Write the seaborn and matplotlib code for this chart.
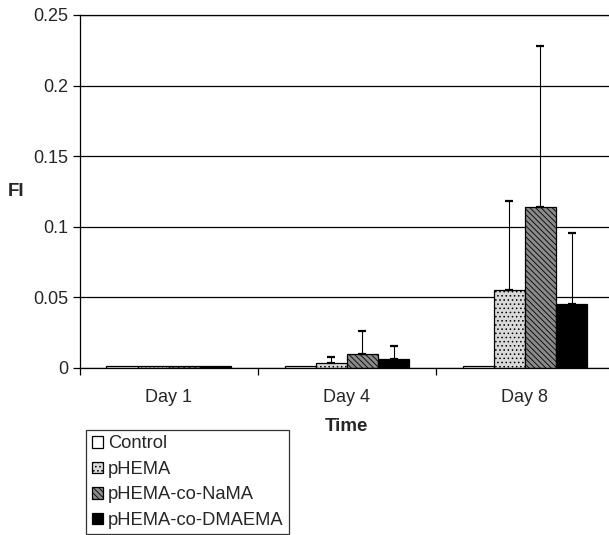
import matplotlib
matplotlib.use("Agg")
import matplotlib.pyplot as plt
import seaborn as sns
import pandas as pd
import numpy as np

# values
days = ["Day 1", "Day 4", "Day 8"]
groups = ["Control", "pHEMA", "pHEMA-co-NaMA", "pHEMA-co-DMAEMA"]
control = [0.0012, 0.0010, 0.0015]
phema = [0.0012, 0.0035, 0.055]
naca = [0.0012, 0.0095, 0.114]
dmaema = [0.0012, 0.0060, 0.0455]
# upper error (absolute top of bar) for each group, 0 means none
control_top = [0.0, 0.0, 0.0]
phema_top = [0.0, 0.0074, 0.118]
naca_top = [0.0, 0.026, 0.228]
dmaema_top = [0.0, 0.0156, 0.0953]

means = [control, phema, naca, dmaema]
tops = [control_top, phema_top, naca_top, dmaema_top]

rows = []
for g, vals in zip(groups, means):
    for d, v in zip(days, vals):
        rows.append({"day": d, "group": g, "fi": v})
df = pd.DataFrame(rows)

sns.set_style("white")
plt.rcParams["font.family"] = ["Liberation Sans", "DejaVu Sans"]
plt.rcParams["hatch.linewidth"] = 0.6

fig = plt.figure(figsize=(6.09, 5.35), dpi=100)
ax = fig.add_axes([0.131, 0.3127, 0.877, 0.6593])

sns.barplot(data=df, x="day", y="fi", hue="group", order=days,
            hue_order=groups, width=0.7, gap=0, errorbar=None,
            legend=False, ax=ax)

bar_conts = list(ax.containers)
faces = ["white", "#d9d9d9", "#8a8a8a", "black"]
hatches = [None, "....", "\\\\\\\\\\\\", None]
for cont, fc, h, top in zip(bar_conts, faces, hatches, tops):
    xs, ys, es = [], [], []
    for bar, t in zip(cont, top):
        bar.set_facecolor(fc)
        bar.set_edgecolor("black")
        bar.set_linewidth(0.9)
        if h:
            bar.set_hatch(h)
        if t > 0:
            xs.append(bar.get_x() + bar.get_width() / 2)
            ys.append(bar.get_height())
            es.append(t - bar.get_height())
    if xs:
        ax.errorbar(xs, ys, yerr=[np.zeros(len(es)), es], fmt="none",
                    ecolor="black", elinewidth=0.8, capsize=3, capthick=1.6)

ax.set_xlim(-0.5, 2.5)
ax.set_ylim(0, 0.25)
ax.set_yticks([0, 0.05, 0.1, 0.15, 0.2, 0.25])
ax.set_yticklabels(["0", "0.05", "0.1", "0.15", "0.2", "0.25"])
ax.yaxis.grid(True, color="black", linewidth=0.9)
ax.set_axisbelow(True)
for s in ["left", "bottom", "top"]:
    ax.spines[s].set_color("black")
    ax.spines[s].set_linewidth(0.9)
ax.spines["right"].set_visible(False)

ax.set_xticks([-0.5, 0.5, 1.5, 2.5], minor=True)
ax.tick_params(axis="x", which="major", length=0, labelsize=13, pad=15)
ax.tick_params(axis="x", which="minor", length=5, width=0.9, color="black",
               direction="out", bottom=True)
ax.tick_params(axis="y", length=5, width=0.9, color="black", direction="out",
               left=True, labelsize=13)

ax.set_xlabel("Time", fontsize=13.5, fontweight="bold", labelpad=9)
ax.set_ylabel("FI", fontsize=13.5, fontweight="bold", rotation=0,
              ha="center", va="center")
ax.yaxis.set_label_coords(-0.12, 0.50)

handles = [c.patches[0] for c in bar_conts]
leg = fig.legend(handles, groups, loc="upper left",
                 bbox_to_anchor=(86 / 609, 1 - 430 / 535),
                 frameon=True, fancybox=False, fontsize=13.2,
                 handlelength=0.6, handleheight=0.6, handletextpad=0.3,
                 labelspacing=0.46, borderpad=0.3, borderaxespad=0)
leg.get_frame().set_edgecolor("black")
leg.get_frame().set_linewidth(0.9)

fig.savefig("out.png", dpi=100)
